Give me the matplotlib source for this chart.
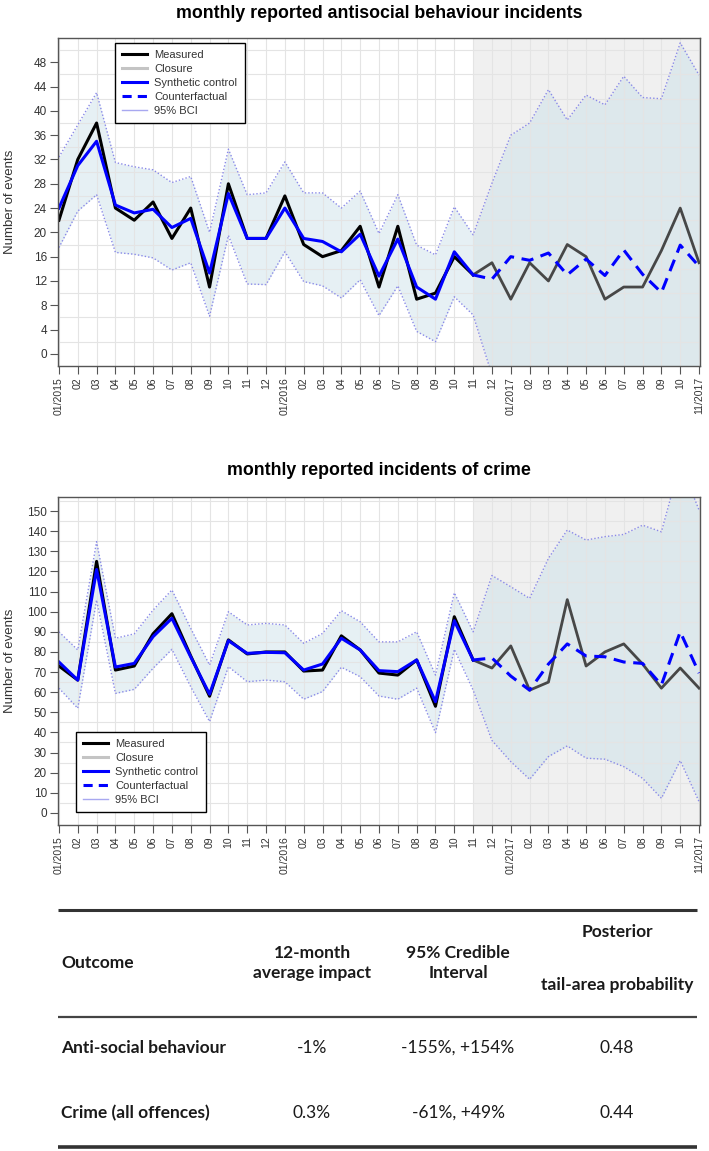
import matplotlib
matplotlib.use("Agg")
import matplotlib.pyplot as plt
from matplotlib.lines import Line2D
import numpy as np

plt.rcParams['font.family'] = ['Liberation Sans', 'DejaVu Sans']

# months 01/2015 .. 11/2017
month_labels = (['01/2015'] + ['%02d' % m for m in range(2, 13)] +
                ['01/2016'] + ['%02d' % m for m in range(2, 13)] +
                ['01/2017'] + ['%02d' % m for m in range(2, 11)] + ['11/2017'])
closure_idx = 22  # 11/2016

# antisocial behaviour
asb_measured = [22, 32, 38, 24, 22, 25, 19, 24, 11, 28, 19, 19, 26, 18, 16, 17, 21, 11,
                21, 9, 10, 16, 13, 15, 9, 15, 12, 18, 16, 9, 11, 11, 17, 24, 15]
asb_synth = [24, 31, 35, 24.5, 23.2, 23.8, 20.8, 22.3, 13.3, 26.4, 19, 19, 24, 19, 18.5,
             16.8, 19.7, 12.8, 18.9, 11, 9, 16.8, 13, 12.3, 16, 15.4, 16.6, 13, 15.6, 12.9,
             17.1, 13.1, 10.1, 17.9, 14.4]
asb_upper = [32.4, 37.7, 43, 31.5, 30.8, 30.3, 28.2, 29.2, 20, 33.7, 26.2, 26.5, 31.6,
             26.5, 26.5, 24, 26.8, 19.8, 26.2, 17.9, 16.3, 24.2, 19.6, 28.1, 36, 38, 43.5,
             38.5, 42.6, 41, 45.7, 42.2, 42, 51.2, 45.9]
asb_lower = [17.5, 23.5, 26.2, 16.7, 16.4, 15.8, 13.8, 15, 6.2, 19.5, 11.5, 11.4, 16.8,
             11.9, 11.2, 9.2, 12.2, 6.3, 11.2, 3.7, 2, 9.4, 6.4, -3.5, -4, -7, -10, -12.5,
             -11.6, -15.4, -11.7, -16, -22, -15, -17]

# crime
crime_measured = [73, 66, 125, 71, 73, 89, 99, 78, 58, 86, 79, 80, 80, 70.5, 71, 88, 81,
                  69.5, 68.5, 76, 53, 97.5, 76, 72, 83, 61, 65, 106, 73, 80, 84, 74, 62,
                  72, 62]
crime_synth = [75, 66, 121, 72.5, 74.3, 87.6, 96.7, 77.5, 59, 85.6, 79.3, 79.8, 79.6, 71,
               74, 86.8, 81, 70.7, 70.2, 76, 55.3, 95.5, 76, 77, 68, 61, 74, 84, 78, 77.6,
               75, 74.3, 63.6, 90, 69.5]
crime_upper = [90, 81, 134.8, 86.8, 89, 100.8, 110.8, 91.7, 73.5, 100, 93.4, 94.2, 93.4,
               84.3, 89.2, 100.5, 95, 85, 85, 90, 68.5, 109.4, 90, 118, 112.4, 106.6,
               126.5, 140.6, 135.6, 137.3, 138.4, 143, 139.7, 174, 150.5]
crime_lower = [62, 52, 105.8, 59.4, 61.4, 71.9, 81.3, 62.7, 45.4, 72.7, 65.2, 66, 65.2,
               56.5, 60.3, 72.4, 67.7, 58.1, 56.5, 62, 39.9, 81.3, 61, 36, 25.5, 16.7, 28,
               33.3, 27.2, 26.7, 23, 17.2, 7.3, 26, 5.6]

# table
table_cols = ['Outcome', '12-month\naverage impact', '95% Credible\nInterval']
outcomes = ['Anti-social behaviour', 'Crime (all offences)']
avg_impact = ['-1%', '0.3%']
cred_interval = ['-155%, +154%', '-61%, +49%']
tail_prob = ['0.48', '0.44']

W, H = 709, 1151
fig = plt.figure(figsize=(W / 100, H / 100), dpi=100)


def px_axes(l, t, r, b):
    return fig.add_axes([l / W, 1 - b / H, (r - l) / W, (b - t) / H])


def draw_panel(ax, measured, synth, upper, lower, ylim, yticks, ygrid, leg_anchor, leg_loc):
    x = np.arange(len(month_labels))
    c = closure_idx
    measured = np.array(measured, float)
    synth = np.array(synth, float)
    ax.axvspan(c, x[-1] + 0.1, color='#f0f0f0', lw=0, zorder=0.5)
    ax.fill_between(x, lower, upper, color='#c8dfe8', alpha=0.45, lw=0, zorder=0.8)
    ax.plot(x, upper, ls=(0, (1, 1.5)), color='#8a8ae8', lw=1.0)
    ax.plot(x, lower, ls=(0, (1, 1.5)), color='#8a8ae8', lw=1.0)
    ax.plot(x[c:], measured[c:], color='#474747', lw=2.0)
    ax.plot(x[:c + 1], measured[:c + 1], color='black', lw=2.2)
    ax.plot(x[:c + 1], synth[:c + 1], color='#0000ff', lw=2.2)
    ax.plot(x[c:], synth[c:], color='#0000ff', lw=2.2, ls=(0, (4, 2.5)))

    ax.set_xlim(-0.05, x[-1] + 0.05)
    ax.set_ylim(*ylim)
    ax.set_xticks(x)
    ax.set_xticklabels(month_labels, rotation=90, fontsize=7.5)
    ax.set_yticks(yticks)
    ax.set_yticks(ygrid, minor=True)
    ax.tick_params(which='minor', length=0)
    ax.tick_params(which='major', direction='out', length=6, width=0.8, color='#555555',
                   labelcolor='#333333', pad=2)
    ax.tick_params(axis='y', labelsize=8.5)
    ax.set_axisbelow('line')
    ax.grid(axis='x', which='major', color='#e4e4e4', lw=0.8)
    ax.grid(axis='y', which='minor', color='#e4e4e4', lw=0.8)
    for s in ax.spines.values():
        s.set_color('#555555')
        s.set_linewidth(1.0)
    ax.set_ylabel('Number of events', fontsize=9.5, color='#333333')
    ax.yaxis.set_label_coords(-42 / 642, 0.5)

    handles = [Line2D([], [], color='black', lw=2.2, label='Measured'),
               Line2D([], [], color='#c4c4c4', lw=2.2, label='Closure'),
               Line2D([], [], color='#0000ff', lw=2.2, label='Synthetic control'),
               Line2D([], [], color='#0000ff', lw=2.2, ls=(0, (3, 2)), label='Counterfactual'),
               Line2D([], [], color='#a8a8f0', lw=1.0, label='95% BCI')]
    leg = ax.legend(handles=handles, loc=leg_loc, bbox_to_anchor=leg_anchor, fontsize=8,
                    frameon=True, fancybox=False, edgecolor='black', framealpha=1,
                    handlelength=2.2, borderpad=0.65, labelspacing=0.36, handletextpad=0.7,
                    borderaxespad=0)
    leg.get_frame().set_linewidth(1.0)
    for t in leg.get_texts():
        t.set_color('#333333')


ax1 = px_axes(58, 38, 700, 366)
draw_panel(ax1, asb_measured, asb_synth, asb_upper, asb_lower, (-2, 52),
           np.arange(0, 49, 4), np.arange(2, 51, 4),
           ((115 - 58) / 642, (366 - 43) / 328), 'upper left')
fig.text(379 / W, 1 - 13 / H, 'monthly reported antisocial behaviour incidents',
         ha='center', va='center', fontsize=12.8, fontweight='bold')

ax2 = px_axes(58, 497, 700, 825)
draw_panel(ax2, crime_measured, crime_synth, crime_upper, crime_lower, (-6, 157),
           np.arange(0, 151, 10), np.arange(5, 156, 10),
           ((76 - 58) / 642, (825 - 812) / 328), 'lower left')
fig.text(379 / W, 1 - 470 / H, 'monthly reported incidents of crime',
         ha='center', va='center', fontsize=12.8, fontweight='bold')

# table
axt = fig.add_axes([0, 0, 1, 271 / H])
axt.set_xlim(0, W)
axt.set_ylim(H, 880)
axt.axis('off')
axt.hlines(910, 58, 697, color='#333333', lw=2.2)
axt.hlines(1017, 58, 697, color='#444444', lw=1.6)
axt.hlines(1147, 58, 697, color='#333333', lw=2.6)

tf = dict(family=['Lato', 'DejaVu Sans'], color='#1a1a1a', fontsize=12.5)
col_x = [61, 312, 458, 617]
axt.text(col_x[0], 963, table_cols[0], ha='left', va='center', fontweight='bold', **tf)
axt.text(col_x[1], 963, table_cols[1], ha='center', va='center', fontweight='bold',
         linespacing=1.35, **tf)
axt.text(col_x[2], 963, table_cols[2], ha='center', va='center', fontweight='bold',
         linespacing=1.35, **tf)
axt.text(col_x[3], 932, 'Posterior', ha='center', va='center', fontweight='bold', **tf)
axt.text(col_x[3], 985, 'tail-area probability', ha='center', va='center',
         fontweight='bold', **tf)
row_y = [1048, 1113]
for i in range(len(outcomes)):
    axt.text(col_x[0], row_y[i], outcomes[i], ha='left', va='center', fontweight='bold', **tf)
    axt.text(col_x[1], row_y[i], avg_impact[i], ha='center', va='center', **tf)
    axt.text(col_x[2], row_y[i], cred_interval[i], ha='center', va='center', **tf)
    axt.text(col_x[3], row_y[i], tail_prob[i], ha='center', va='center', **tf)

fig.savefig('out.png', dpi=100)
